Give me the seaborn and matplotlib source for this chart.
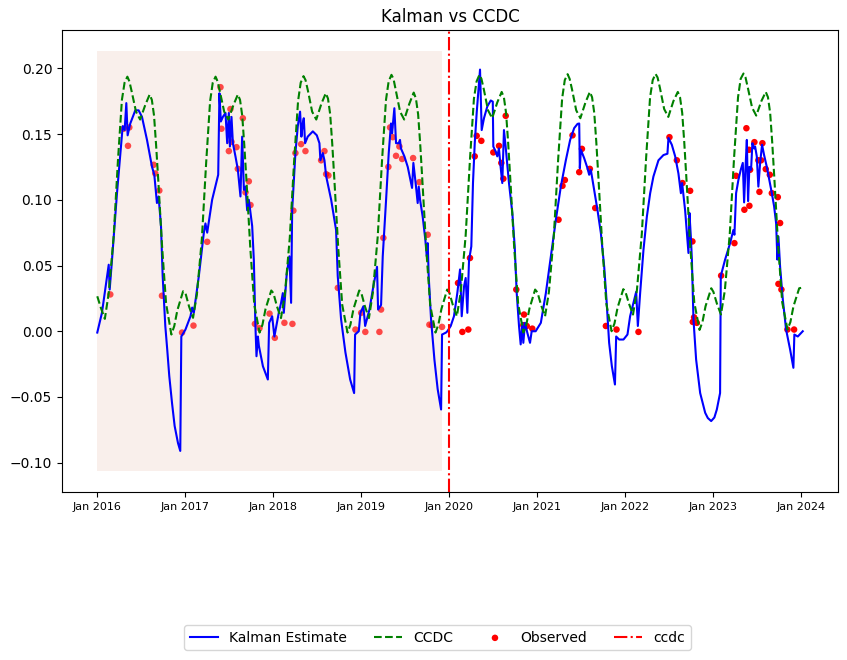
import numpy as np
import pandas as pd
import matplotlib
matplotlib.use("Agg")
import matplotlib.pyplot as plt
import matplotlib.dates as mdates
import seaborn as sns

# ---- data (decimal years, values) ----
kalman_year = [
    2016.000, 2016.053, 2016.130, 2016.141, 2016.167, 2016.224, 2016.289, 2016.311, 2016.330, 2016.345,
    2016.375, 2016.432, 2016.470, 2016.508, 2016.565, 2016.622, 2016.648, 2016.678, 2016.697, 2016.724,
    2016.743, 2016.773, 2016.795, 2016.818, 2016.850, 2016.879, 2016.917, 2016.943, 2016.955, 2017.000,
    2017.057, 2017.076, 2017.095,
    2017.152, 2017.209, 2017.227, 2017.247, 2017.303, 2017.372, 2017.386, 2017.402, 2017.425, 2017.455,
    2017.474, 2017.493, 2017.505, 2017.523, 2017.539, 2017.568, 2017.595, 2017.625, 2017.644, 2017.664,
    2017.682, 2017.701, 2017.720, 2017.758, 2017.777, 2017.795, 2017.807, 2017.823, 2017.834, 2017.880,
    2017.936, 2017.951, 2017.985, 2018.011, 2018.061, 2018.087, 2018.107, 2018.118, 2018.152, 2018.182,
    2018.201, 2018.213, 2018.250, 2018.277, 2018.303, 2018.318, 2018.333, 2018.345, 2018.360, 2018.390,
    2018.448, 2018.493, 2018.523, 2018.534, 2018.561, 2018.580, 2018.599, 2018.656, 2018.712, 2018.731,
    2018.769, 2018.818, 2018.872, 2018.917, 2018.928, 2018.970, 2018.989, 2019.023, 2019.043, 2019.092,
    2019.136, 2019.178, 2019.190, 2019.224, 2019.243, 2019.281, 2019.311, 2019.337, 2019.349, 2019.375,
    2019.394, 2019.424, 2019.439, 2019.450, 2019.489, 2019.527, 2019.553, 2019.576, 2019.591, 2019.621,
    2019.640, 2019.652, 2019.667, 2019.697, 2019.727, 2019.743, 2019.754, 2019.765, 2019.792, 2019.830,
    2019.867, 2019.906, 2019.917, 2019.962, 2019.977, 2020.016, 2020.053, 2020.091, 2020.122, 2020.141,
    2020.167, 2020.186, 2020.205, 2020.224, 2020.250, 2020.269, 2020.289, 2020.311, 2020.349, 2020.368,
    2020.394, 2020.432, 2020.471, 2020.494, 2020.500, 2020.527, 2020.545, 2020.564, 2020.583, 2020.602,
    2020.621, 2020.640, 2020.678, 2020.716, 2020.743, 2020.766, 2020.792, 2020.811, 2020.830, 2020.841,
    2020.860, 2020.886, 2020.917, 2020.936, 2020.981, 2021.038, 2021.095, 2021.152, 2021.209, 2021.265,
    2021.322, 2021.371, 2021.417, 2021.455, 2021.474, 2021.481, 2021.493, 2021.530, 2021.568, 2021.587,
    2021.606, 2021.644, 2021.682, 2021.720, 2021.758, 2021.784, 2021.814, 2021.845, 2021.880, 2021.894,
    2021.928, 2021.977, 2022.023, 2022.053, 2022.099, 2022.122, 2022.141, 2022.167, 2022.205, 2022.243,
    2022.281, 2022.318, 2022.375, 2022.432, 2022.477, 2022.489, 2022.527, 2022.565, 2022.602, 2022.630,
    2022.644, 2022.678, 2022.716, 2022.727, 2022.743, 2022.755, 2022.773, 2022.803, 2022.849, 2022.906,
    2022.936, 2022.974, 2023.011, 2023.039, 2023.076, 2023.084, 2023.133, 2023.190, 2023.227, 2023.239,
    2023.258, 2023.284,
    2023.311, 2023.334, 2023.349, 2023.364, 2023.380, 2023.394, 2023.409, 2023.428, 2023.443, 2023.463,
    2023.474, 2023.493, 2023.511, 2023.531, 2023.553, 2023.576, 2023.607, 2023.636, 2023.664, 2023.690,
    2023.713, 2023.727, 2023.739, 2023.758, 2023.789, 2023.826, 2023.872, 2023.909, 2023.920, 2023.959,
    2024.016,
]
kalman_value = [
    -0.001, 0.014, 0.0506, 0.0317, 0.054, 0.105, 0.156, 0.153, 0.1735, 0.149,
    0.158, 0.168, 0.168, 0.163, 0.1455, 0.125, 0.119, 0.0975, 0.1025, 0.080,
    0.042, 0.004, -0.014, -0.034, -0.055, -0.072, -0.085, -0.091, -0.004, 0.0013,
    0.0114, 0.018, 0.014,
    0.042, 0.075, 0.082, 0.075, 0.100, 0.119, 0.181, 0.1595, 0.163, 0.166,
    0.143, 0.166, 0.1405, 0.163, 0.143, 0.133, 0.123, 0.1025, 0.148, 0.1076,
    0.110, 0.092, 0.100, 0.080, 0.054, 0.004, -0.019, -0.004, -0.011, -0.0266,
    -0.0367, 0.0064, 0.0114, -0.004, 0.014, 0.0216, 0.029, 0.014, 0.044, 0.057,
    0.0216, 0.092, 0.1355, 0.156, 0.167, 0.148, 0.158, 0.162, 0.143, 0.148,
    0.152, 0.149, 0.143, 0.130, 0.1355, 0.130, 0.118, 0.100, 0.077, 0.042,
    0.009, -0.016, -0.0367, -0.047, -0.0025, 0.000, 0.014, 0.019, 0.004, 0.0165,
    0.034, 0.049, 0.0165, 0.020, 0.057, 0.100, 0.1355, 0.158, 0.1506, 0.1696,
    0.143, 0.143, 0.1455, 0.139, 0.133, 0.125, 0.1165, 0.109, 0.128, 0.110,
    0.0975, 0.110, 0.100, 0.087, 0.0696, 0.057, 0.067, 0.042, 0.009, -0.0215,
    -0.044, -0.0595, -0.0025, -0.001, 0.000, 0.004, 0.0114, 0.029, 0.047, 0.0114,
    0.034, 0.0405, 0.014, 0.054, 0.0645, 0.1127, 0.143, 0.166, 0.199, 0.153,
    0.162, 0.171, 0.1755, 0.1746, 0.1405, 0.1367, 0.133, 0.139, 0.125, 0.1127,
    0.153, 0.1405, 0.1127, 0.090, 0.0645, 0.029, 0.004, -0.010, 0.0064, -0.0088,
    0.0064, -0.001, -0.0088, 0.000, 0.000, 0.0064, 0.029, 0.057, 0.085, 0.110,
    0.130, 0.1455, 0.1545, 0.1577, 0.158, 0.124, 0.138, 0.1317, 0.124, 0.119,
    0.1228, 0.1076, 0.092, 0.0747, 0.049, 0.024, -0.0088, -0.0266, -0.0405, -0.004,
    -0.0063, -0.0063, -0.0025, 0.0114, 0.024, 0.030, 0.004, 0.029, 0.062, 0.087,
    0.105, 0.1177, 0.130, 0.134, 0.135, 0.147, 0.1418, 0.133, 0.120, 0.105,
    0.1127, 0.092, 0.0595, 0.090, 0.072, 0.0545, 0.009, -0.0215, -0.047, -0.062,
    -0.066, -0.0683, -0.0656, -0.0595, -0.047, 0.042, 0.0545, 0.067, 0.077, 0.0734,
    0.105, 0.115,
    0.1228, 0.128, 0.098, 0.1228, 0.1455, 0.099, 0.125, 0.1228, 0.143, 0.139,
    0.1405, 0.133, 0.110, 0.128, 0.1418, 0.134, 0.125, 0.115, 0.105, 0.095,
    0.082, 0.0545, 0.072, 0.049, 0.024, 0.0013, -0.014, -0.0278, -0.0025, -0.004,
    0.000,
]

# CCDC harmonic fit: same sampling positions within each year
ccdc_offsets = [0.000, 0.040, 0.086, 0.130, 0.186, 0.235, 0.280, 0.310, 0.342, 0.365,
                0.392, 0.440, 0.487, 0.545, 0.595, 0.620, 0.645, 0.668, 0.692, 0.737,
                0.782, 0.842, 0.875, 0.910, 0.975]
ccdc_2016 = [0.0266, 0.018, 0.0094, 0.029, 0.072, 0.130, 0.176, 0.189, 0.1936, 0.190, 0.182, 0.167, 0.161,
             0.172, 0.180, 0.176, 0.164, 0.142, 0.116, 0.064, 0.021, -0.0025, 0.004, 0.016, 0.0304]
ccdc_2017 = [0.029, 0.019, 0.0102, 0.028, 0.070, 0.128, 0.175, 0.189, 0.1936, 0.190, 0.182, 0.167, 0.161,
             0.172, 0.180, 0.176, 0.164, 0.142, 0.116, 0.063, 0.020, -0.001, 0.005, 0.017, 0.031]
ccdc_2018 = [0.029, 0.019, 0.010, 0.028, 0.071, 0.129, 0.175, 0.189, 0.194, 0.191, 0.183, 0.167, 0.161,
             0.173, 0.181, 0.177, 0.165, 0.143, 0.116, 0.063, 0.020, -0.001, 0.005, 0.017, 0.031]
ccdc_2019 = [0.029, 0.019, 0.010, 0.029, 0.072, 0.130, 0.176, 0.190, 0.195, 0.192, 0.183, 0.167, 0.161,
             0.173, 0.1815, 0.177, 0.165, 0.143, 0.116, 0.063, 0.020, -0.001, 0.005, 0.017, 0.0317]
ccdc_2020 = [0.0295, 0.020, 0.0114, 0.030, 0.073, 0.131, 0.177, 0.190, 0.195, 0.192, 0.184, 0.168, 0.162,
             0.174, 0.182, 0.178, 0.166, 0.144, 0.117, 0.064, 0.021, -0.001, 0.005, 0.017, 0.0317]
ccdc_2021 = [0.0295, 0.020, 0.0114, 0.030, 0.073, 0.131, 0.177, 0.191, 0.1955, 0.192, 0.184, 0.168, 0.162,
             0.174, 0.182, 0.178, 0.166, 0.144, 0.117, 0.064, 0.021, 0.000, 0.006, 0.018, 0.032]
ccdc_2022 = [0.030, 0.021, 0.0127, 0.031, 0.074, 0.132, 0.178, 0.191, 0.1957, 0.193, 0.185, 0.169, 0.163,
             0.175, 0.182, 0.178, 0.166, 0.144, 0.117, 0.064, 0.022, 0.001, 0.007, 0.019, 0.0327]
ccdc_2023 = [0.030, 0.021, 0.0127, 0.031, 0.074, 0.132, 0.178, 0.192, 0.196, 0.193, 0.185, 0.170, 0.164,
             0.175, 0.182, 0.178, 0.166, 0.144, 0.117, 0.064, 0.022, 0.0013, 0.007, 0.019, 0.0327]
ccdc_end_year = 2024.0
ccdc_end_value = 0.033

train_obs_year = [
    2016.148, 2016.300, 2016.349, 2016.364, 2016.641, 2016.659, 2016.705, 2016.735, 2016.963, 2017.091,
    2017.247, 2017.398, 2017.409, 2017.493, 2017.511, 2017.523, 2017.580, 2017.595, 2017.652, 2017.682,
    2017.720, 2017.739, 2017.789, 2017.841, 2017.955, 2018.016, 2018.125, 2018.216, 2018.227, 2018.250,
    2018.315, 2018.364, 2018.542, 2018.580, 2018.599, 2018.625, 2018.732, 2018.932, 2018.997, 2019.045,
    2019.205, 2019.224, 2019.250, 2019.307, 2019.326, 2019.357, 2019.394, 2019.432, 2019.463, 2019.588,
    2019.659, 2019.754, 2019.773, 2019.800, 2019.917,
]
train_obs_value = [
    0.028, 0.154, 0.141, 0.155, 0.1266, 0.120, 0.107, 0.027, -0.001, 0.0043,
    0.068, 0.1856, 0.154, 0.137, 0.169, 0.144, 0.140, 0.1235, 0.162, 0.1056,
    0.114, 0.096, 0.0056, 0.0023, 0.0134, -0.005, 0.0064, 0.0056, 0.0917, 0.1355,
    0.1423, 0.137, 0.130, 0.137, 0.1195, 0.1185, 0.033, 0.0013, 0.014, -0.0005,
    -0.0005, 0.0165, 0.071, 0.125, 0.155, 0.1476, 0.1334, 0.1405, 0.131, 0.1317,
    0.1134, 0.0734, 0.005, 0.0046, 0.0033,
]

obs_year = [
    2020.099, 2020.148, 2020.216, 2020.235, 2020.289, 2020.311, 2020.364, 2020.500, 2020.565, 2020.591,
    2020.614, 2020.641, 2020.761, 2020.841, 2020.849, 2020.880, 2020.943, 2021.239, 2021.284, 2021.311,
    2021.398, 2021.474, 2021.505, 2021.595, 2021.656, 2021.777, 2021.898, 2022.148, 2022.500, 2022.584,
    2022.648, 2022.735, 2022.761, 2022.765, 2022.780, 2022.811, 2023.088, 2023.239, 2023.258, 2023.352,
    2023.375, 2023.405, 2023.409, 2023.417, 2023.466, 2023.511, 2023.523, 2023.542, 2023.557, 2023.595,
    2023.641, 2023.664, 2023.732, 2023.739, 2023.758, 2023.773, 2023.841, 2023.917,
]
obs_value = [
    0.0367, -0.0005, 0.0013, 0.0557, 0.133, 0.1486, 0.1448, 0.136, 0.141, 0.128,
    0.116, 0.1638, 0.0317, 0.0046, 0.0127, 0.004, 0.002, 0.0848, 0.1106, 0.115,
    0.149, 0.121, 0.1387, 0.1235, 0.0937, 0.004, 0.0013, -0.0005, 0.1476, 0.130,
    0.1127, 0.1068, 0.0683, 0.0071, 0.0106, 0.0064, 0.0423, 0.067, 0.1182, 0.0924,
    0.1544, 0.138, 0.0954, 0.1228, 0.1438, 0.130, 0.106, 0.130, 0.143, 0.1233,
    0.119, 0.105, 0.102, 0.036, 0.0823, 0.0317, 0.0013, 0.0013,
]

break_date = "2020-01-01"
train_start, train_end = 2016.0, 2019.92
train_low, train_high = -0.1063, 0.2131


def to_dates(years):
    out = []
    for y in years:
        base = int(np.floor(y))
        out.append(pd.Timestamp(base, 1, 1) + pd.Timedelta(days=(y - base) * 365.25))
    return pd.to_datetime(out)


ccdc_years = []
ccdc_vals = []
for yr, vals in zip(range(2016, 2024), [ccdc_2016, ccdc_2017, ccdc_2018, ccdc_2019,
                                        ccdc_2020, ccdc_2021, ccdc_2022, ccdc_2023]):
    ccdc_years += [yr + o for o in ccdc_offsets]
    ccdc_vals += vals
ccdc_years.append(ccdc_end_year)
ccdc_vals.append(ccdc_end_value)

kalman_df = pd.DataFrame({"date": to_dates(kalman_year), "value": kalman_value})
ccdc_df = pd.DataFrame({"date": to_dates(ccdc_years), "value": ccdc_vals})
train_df = pd.DataFrame({"date": to_dates(train_obs_year), "value": train_obs_value})
obs_df = pd.DataFrame({"date": to_dates(obs_year), "value": obs_value})

fig, ax = plt.subplots(figsize=(8.47, 6.6), dpi=100)
fig.subplots_adjust(left=0.0732, right=0.9894, top=0.9545, bottom=0.2545)

# training period shading
span = to_dates([train_start, train_end])
ax.fill_between(span, train_low, train_high, color="#f9efeb", linewidth=0, zorder=0)

sns.lineplot(data=kalman_df, x="date", y="value", color="blue", linewidth=1.5,
             estimator=None, sort=False, label="Kalman Estimate", ax=ax)
sns.lineplot(data=ccdc_df, x="date", y="value", color="green", linewidth=1.5,
             linestyle="--", estimator=None, sort=False, label="CCDC", ax=ax)
sns.scatterplot(data=train_df, x="date", y="value", color="red", alpha=0.7, s=22,
                edgecolor="none", ax=ax)
sns.scatterplot(data=obs_df, x="date", y="value", color="red", s=22,
                edgecolor="none", label="Observed", ax=ax)
ax.axvline(pd.Timestamp(break_date), color="red", linestyle="-.", linewidth=1.5, label="ccdc")

ax.set_title("Kalman vs CCDC")
ax.set_xlabel("")
ax.set_ylabel("")
ax.xaxis.set_major_locator(mdates.YearLocator())
ax.xaxis.set_major_formatter(mdates.DateFormatter("%b %Y"))
ax.tick_params(axis="x", labelsize=8)

handles, labels = ax.get_legend_handles_labels()
if ax.get_legend() is not None:
    ax.get_legend().remove()
fig.legend(handles, labels, loc="center", ncol=4,
           bbox_to_anchor=(437.5 / 847, 1 - 637.5 / 660))

fig.savefig("out.png", dpi=100)
